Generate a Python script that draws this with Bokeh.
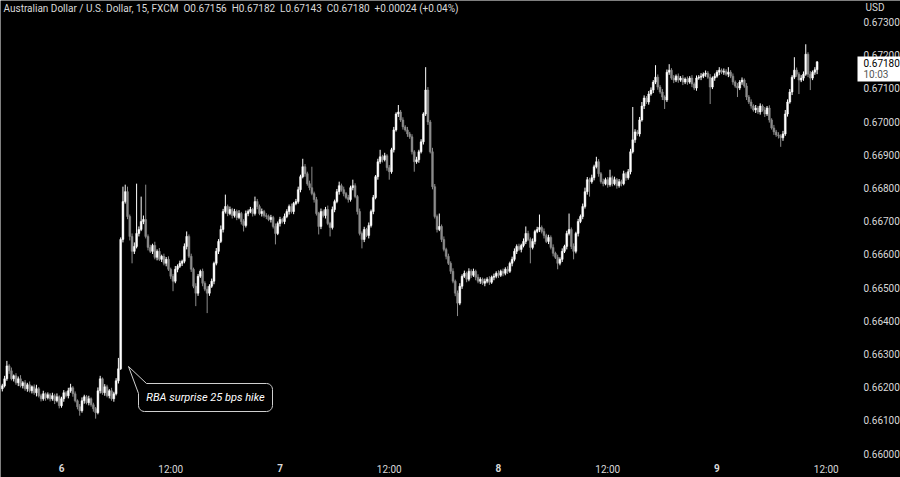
import numpy as np
from bokeh.plotting import figure
from bokeh.models import (ColumnDataSource, FixedTicker, PrintfTickFormatter, Label,
                          LinearAxis, BoxAnnotation)
from bokeh.embed import file_html
from bokeh.resources import INLINE

# ---------------- data (AUD/USD, 15-minute bars, FXCM) ----------------
# time in hours relative to day "6" 00:00; first bar 17:30 of the previous day
first_bar_hour = -6.5
bar_step_hours = 0.25
first_open_pp = 66195          # prices in pipettes (1e-5)

close_pp = [
    66204, 66225, 66264, 66249, 66225, 66234, 66213, 66225, 66204, 66213,
    66195, 66207, 66189, 66201, 66183, 66195, 66174, 66165, 66180, 66168,
    66177, 66165, 66174, 66159, 66171, 66144, 66165, 66183, 66174, 66189,
    66198, 66180, 66159, 66141, 66129, 66159, 66171, 66153, 66165, 66147,
    66135, 66123, 66189, 66225, 66183, 66201, 66174, 66189, 66165, 66180,
    66219, 66255, 66645, 66759, 66789, 66714, 66654, 66609, 66624, 66663,
    66675, 66699, 66705, 66654, 66621, 66609, 66627, 66591, 66609, 66585,
    66594, 66573, 66585, 66555, 66534, 66519, 66555, 66564, 66573, 66579,
    66624, 66654, 66594, 66555, 66504, 66483, 66534, 66549, 66513, 66495,
    66483, 66504, 66519, 66573, 66609, 66639, 66675, 66729, 66744, 66723,
    66735, 66717, 66729, 66711, 66723, 66699, 66687, 66723, 66729, 66735,
    66723, 66759, 66744, 66723, 66729, 66717, 66714, 66705, 66711, 66684,
    66663, 66693, 66705, 66699, 66714, 66729, 66744, 66729, 66753, 66759,
    66795, 66834, 66864, 66843, 66813, 66801, 66783, 66765, 66723, 66684,
    66729, 66717, 66735, 66693, 66681, 66735, 66759, 66789, 66807, 66795,
    66783, 66771, 66765, 66801, 66807, 66774, 66729, 66663, 66645, 66675,
    66657, 66687, 66729, 66771, 66834, 66879, 66894, 66885, 66897, 66861,
    66849, 66915, 66975, 67023, 67029, 67005, 66984, 66975, 66963, 66954,
    66909, 66879, 66885, 66909, 66939, 67023, 67095, 66999, 66909, 66804,
    66714, 66675, 66684, 66645, 66615, 66594, 66573, 66549, 66519, 66483,
    66453, 66504, 66534, 66543, 66525, 66549, 66537, 66549, 66531, 66519,
    66525, 66513, 66519, 66525, 66516, 66531, 66534, 66543, 66537, 66549,
    66543, 66555, 66549, 66573, 66585, 66609, 66624, 66615, 66627, 66639,
    66663, 66645, 66621, 66639, 66669, 66675, 66681, 66669, 66657, 66639,
    66651, 66621, 66603, 66591, 66573, 66585, 66609, 66624, 66663, 66675,
    66624, 66609, 66663, 66699, 66714, 66744, 66789, 66825, 66819, 66831,
    66864, 66879, 66843, 66819, 66813, 66825, 66810, 66831, 66813, 66825,
    66807, 66819, 66813, 66843, 66831, 66849, 66909, 66945, 66969, 66963,
    67005, 67047, 67071, 67059, 67083, 67095, 67119, 67134, 67104, 67089,
    67074, 67065, 67149, 67155, 67131, 67125, 67137, 67125, 67131, 67119,
    67128, 67119, 67131, 67113, 67101, 67131, 67134, 67137, 67143, 67146,
    67134, 67104, 67131, 67137, 67149, 67155, 67149, 67152, 67143, 67149,
    67137, 67119, 67107, 67101, 67119, 67125, 67107, 67074, 67059, 67047,
    67035, 67041, 67029, 67047, 67035, 67023, 67041, 67005, 66981, 66969,
    66960, 66957, 66951, 66963, 67023, 67059, 67089, 67134, 67155, 67143,
    67125, 67131, 67143, 67203, 67143, 67131, 67149, 67156, 67180,
]

# upper / lower wick lengths beyond the candle body, in pipettes
wick_hi_pp = [
    6, 9, 15, 5, 10, 4, 8, 7, 11, 5,
    8, 6, 10, 4, 7, 12, 5, 6, 9, 4,
    7, 5, 9, 6, 10, 4, 6, 8, 5, 9,
    12, 5, 7, 4, 8, 10, 6, 5, 9, 4,
    6, 5, 10, 9, 4, 8, 6, 5, 9, 6,
    8, 33, 6, 45, 21, 15, 6, 9, 12, 150,
    9, 75, 12, 105, 6, 8, 5, 11, 6, 10,
    5, 8, 7, 9, 5, 7, 10, 6, 8, 5,
    9, 15, 6, 8, 5, 9, 7, 5, 8, 6,
    9, 6, 8, 5, 10, 7, 12, 8, 36, 6,
    9, 5, 8, 6, 10, 5, 7, 9, 6, 8,
    5, 15, 8, 6, 9, 5, 7, 6, 8, 5,
    9, 6, 8, 5, 9, 7, 6, 9, 5, 8,
    9, 6, 24, 8, 6, 9, 63, 6, 8, 5,
    9, 6, 8, 12, 5, 9, 6, 8, 12, 6,
    9, 5, 8, 6, 18, 7, 5, 9, 6, 8,
    5, 9, 6, 8, 5, 9, 21, 6, 9, 5,
    8, 6, 9, 5, 21, 6, 8, 5, 9, 6,
    8, 5, 9, 6, 8, 5, 69, 9, 6, 12,
    8, 6, 39, 6, 9, 5, 8, 6, 9, 5,
    8, 9, 6, 8, 5, 9, 6, 8, 5, 9,
    6, 5, 8, 6, 9, 5, 8, 6, 9, 5,
    8, 6, 9, 5, 8, 9, 6, 8, 5, 9,
    21, 8, 6, 9, 5, 8, 39, 6, 9, 5,
    8, 6, 9, 5, 8, 6, 9, 5, 8, 48,
    6, 9, 5, 8, 6, 9, 12, 8, 6, 9,
    6, 15, 8, 5, 9, 6, 8, 24, 6, 9,
    5, 8, 6, 9, 5, 8, 9, 99, 8, 6,
    9, 12, 8, 6, 9, 8, 6, 36, 8, 6,
    9, 5, 8, 18, 6, 9, 5, 8, 6, 9,
    5, 8, 6, 9, 5, 8, 6, 9, 5, 8,
    6, 9, 5, 8, 6, 9, 5, 8, 6, 15,
    6, 8, 5, 9, 6, 8, 5, 9, 6, 8,
    5, 9, 6, 8, 5, 9, 6, 8, 5, 9,
    6, 8, 5, 9, 12, 8, 9, 6, 39, 8,
    6, 9, 8, 30, 6, 9, 5, 8, 2,
]
wick_lo_pp = [
    8, 5, 6, 9, 5, 8, 6, 10, 5, 8,
    6, 9, 5, 8, 6, 11, 5, 8, 6, 9,
    5, 8, 6, 10, 5, 8, 6, 9, 5, 8,
    6, 9, 5, 8, 15, 6, 9, 5, 8, 6,
    9, 18, 5, 8, 6, 9, 5, 8, 6, 9,
    5, 8, 3, 9, 6, 8, 12, 36, 8, 6,
    9, 5, 8, 6, 9, 5, 8, 6, 9, 5,
    8, 6, 9, 5, 8, 30, 6, 9, 5, 8,
    6, 9, 5, 8, 6, 39, 8, 5, 9, 6,
    60, 8, 5, 9, 6, 8, 5, 9, 6, 8,
    5, 9, 6, 8, 5, 9, 18, 6, 8, 5,
    9, 6, 8, 5, 9, 6, 8, 5, 9, 6,
    33, 5, 9, 6, 8, 5, 9, 6, 8, 5,
    6, 8, 5, 9, 6, 8, 5, 9, 6, 24,
    8, 6, 9, 5, 27, 6, 8, 5, 9, 6,
    8, 5, 9, 6, 8, 5, 9, 6, 27, 8,
    5, 9, 6, 8, 5, 9, 6, 8, 5, 9,
    24, 6, 8, 5, 9, 6, 8, 5, 9, 6,
    8, 30, 6, 9, 5, 8, 6, 9, 5, 8,
    6, 9, 5, 8, 6, 9, 5, 8, 6, 9,
    39, 6, 8, 5, 9, 6, 8, 5, 9, 6,
    8, 5, 9, 6, 8, 5, 9, 6, 8, 5,
    9, 6, 8, 5, 9, 6, 8, 5, 9, 6,
    8, 5, 48, 6, 9, 5, 8, 6, 9, 5,
    8, 6, 9, 5, 18, 6, 8, 5, 9, 6,
    8, 24, 6, 9, 5, 8, 6, 9, 45, 6,
    8, 5, 9, 6, 8, 5, 9, 6, 8, 5,
    9, 6, 8, 5, 9, 6, 8, 5, 9, 6,
    8, 5, 9, 6, 8, 5, 9, 6, 8, 5,
    9, 27, 6, 8, 5, 9, 6, 8, 5, 9,
    6, 8, 5, 9, 6, 8, 5, 9, 6, 8,
    5, 51, 6, 8, 5, 9, 6, 8, 5, 9,
    6, 8, 5, 27, 6, 8, 5, 9, 6, 8,
    5, 9, 6, 8, 5, 9, 6, 8, 5, 9,
    6, 8, 27, 9, 6, 8, 5, 9, 6, 8,
    42, 6, 8, 5, 9, 36, 6, 8, 13,
]

day_ticks = [0, 24, 48, 72]
day_tick_labels = ["6", "7", "8", "9"]
noon_ticks = [12, 36, 60, 84]
noon_tick_labels = ["12:00", "12:00", "12:00", "12:00"]
price_ticks = [0.660, 0.661, 0.662, 0.663, 0.664, 0.665, 0.666,
               0.667, 0.668, 0.669, 0.670, 0.671, 0.672, 0.673]

title_text = ("Australian Dollar / U.S. Dollar, 15, FXCM\u00a0\u00a0O0.67156\u00a0\u00a0H0.67182"
              "\u00a0\u00a0L0.67143\u00a0\u00a0C0.67180\u00a0\u00a0+0.00024 (+0.04%)")
currency_text = "USD"
last_price_text = "0.67180"
countdown_text = "10:03"
note_text = "RBA surprise 25 bps hike"

# ---------------- derived OHLC ----------------
scale = 1e-5
n = len(close_pp)
t = first_bar_hour + bar_step_hours * np.arange(n)
c = np.array(close_pp, dtype=float)
o = np.concatenate([[first_open_pp], c[:-1]])
top = np.maximum(o, c)
bot = np.minimum(o, c)
hi = top + np.array(wick_hi_pp, dtype=float)
lo = bot - np.array(wick_lo_pp, dtype=float)
UP, DOWN = "#ffffff", "#8c8c8c"
colors = np.where(c >= o, UP, DOWN)

src = ColumnDataSource(dict(t=t, top=top * scale, bot=bot * scale,
                            hi=hi * scale, lo=lo * scale, color=colors))

# ---------------- figure ----------------
FRAME_W, FRAME_H = 900, 477
PX_PER_HOUR = 9.104
X0 = -61.0 / PX_PER_HOUR
X1 = X0 + FRAME_W / PX_PER_HOUR
PX_PER_PRICE = 33190.0
Y0 = 0.66 - (FRAME_H - 453.0) / PX_PER_PRICE
Y1 = 0.66 + 453.0 / PX_PER_PRICE
TXT = "#d9d9d9"
FONT = "Roboto"


def hx(xr):
    """chart pixel column -> hours"""
    return X0 + xr / PX_PER_HOUR


def py(yr):
    """chart pixel row -> price"""
    return 0.66 + (453.0 - yr) / PX_PER_PRICE


p = figure(frame_width=FRAME_W, frame_height=FRAME_H, x_range=(X0, X1), y_range=(Y0, Y1),
           y_axis_location="right", output_backend="svg", toolbar_location=None,
           background_fill_color="#000000", border_fill_color="#000000",
           outline_line_color=None, min_border_left=0, min_border_right=0,
           min_border_top=0, min_border_bottom=0)
p.grid.visible = False


def style_axis(ax):
    ax.axis_line_color = None
    ax.major_tick_line_color = None
    ax.minor_tick_line_color = None
    ax.major_tick_out = 0
    ax.major_tick_in = 0
    ax.minor_tick_out = 0
    ax.minor_tick_in = 0
    ax.major_label_text_color = TXT
    ax.major_label_text_font = FONT
    ax.major_label_text_font_size = "10px"


TIME_AXIS_AT = py(462)

xa = p.xaxis[0]
style_axis(xa)
xa.ticker = FixedTicker(ticks=noon_ticks)
xa.major_label_overrides = {tk: lb for tk, lb in zip(noon_ticks, noon_tick_labels)}
xa.major_label_standoff = 1
xa.fixed_location = TIME_AXIS_AT

# day numbers in bold on an overlaid time axis
xd = LinearAxis(ticker=FixedTicker(ticks=day_ticks), fixed_location=TIME_AXIS_AT)
style_axis(xd)
xd.major_label_overrides = {tk: lb for tk, lb in zip(day_ticks, day_tick_labels)}
xd.major_label_standoff = 1
xd.major_label_text_font_style = "bold"
p.add_layout(xd, "below")

ya = p.yaxis[0]
style_axis(ya)
ya.ticker = FixedTicker(ticks=price_ticks)
ya.formatter = PrintfTickFormatter(format="%.5f")
ya.fixed_location = hx(858)   # price scale drawn at the right of the chart
ya.major_label_standoff = 5

# candles
p.segment(x0="t", y0="lo", x1="t", y1="hi", source=src, line_color="color", line_width=1)
p.vbar(x="t", width=0.2, top="top", bottom="bot", source=src,
       fill_color="color", line_color="color", line_width=0.5)

# callout (geometry expressed in chart pixels, converted to data space)
r = 6.0
pts = [(128.0, 366.0), (146.0, 383.0)]
for a in np.linspace(90, 0, 7):
    pts.append((266 + r * np.cos(np.radians(a)), 389 - r * np.sin(np.radians(a))))
for a in np.linspace(0, -90, 7):
    pts.append((266 + r * np.cos(np.radians(a)), 405 - r * np.sin(np.radians(a))))
for a in np.linspace(-90, -180, 7):
    pts.append((144 + r * np.cos(np.radians(a)), 405 - r * np.sin(np.radians(a))))
pts.append((138.0, 393.0))
p.patch([hx(a) for a, b in pts], [py(b) for a, b in pts],
        fill_color="#000000", line_color="#d0d0d0", line_width=1)

p.add_layout(Label(x=hx(205), y=py(397), text=note_text, text_align="center",
                   text_baseline="middle", text_font_style="italic", text_color="#ffffff",
                   text_font=FONT, text_font_size="11px"))

# title and currency
p.add_layout(Label(x=3, y=FRAME_H - 2, x_units="screen", y_units="screen", text=title_text,
                   text_baseline="top", text_align="left", text_color=TXT,
                   text_font=FONT, text_font_size="10px"))
p.add_layout(Label(x=865, y=FRAME_H - 1, x_units="screen", y_units="screen",
                   text=currency_text, text_baseline="top", text_align="left", text_color=TXT,
                   text_font=FONT, text_font_size="10px"))

# last price box
p.add_layout(BoxAnnotation(left=hx(857), right=hx(900), top=py(56), bottom=py(81),
                           fill_color="#ffffff", fill_alpha=1.0, line_color=None))
p.add_layout(Label(x=863, y=FRAME_H - 62, x_units="screen", y_units="screen",
                   text=last_price_text, text_baseline="middle", text_align="left",
                   text_color="#000000", text_font=FONT, text_font_size="10px"))
p.add_layout(Label(x=863, y=FRAME_H - 74, x_units="screen", y_units="screen",
                   text=countdown_text, text_baseline="middle", text_align="left",
                   text_color="#555555", text_font=FONT, text_font_size="10px"))

open("out.html", "w").write(file_html(p, INLINE))
